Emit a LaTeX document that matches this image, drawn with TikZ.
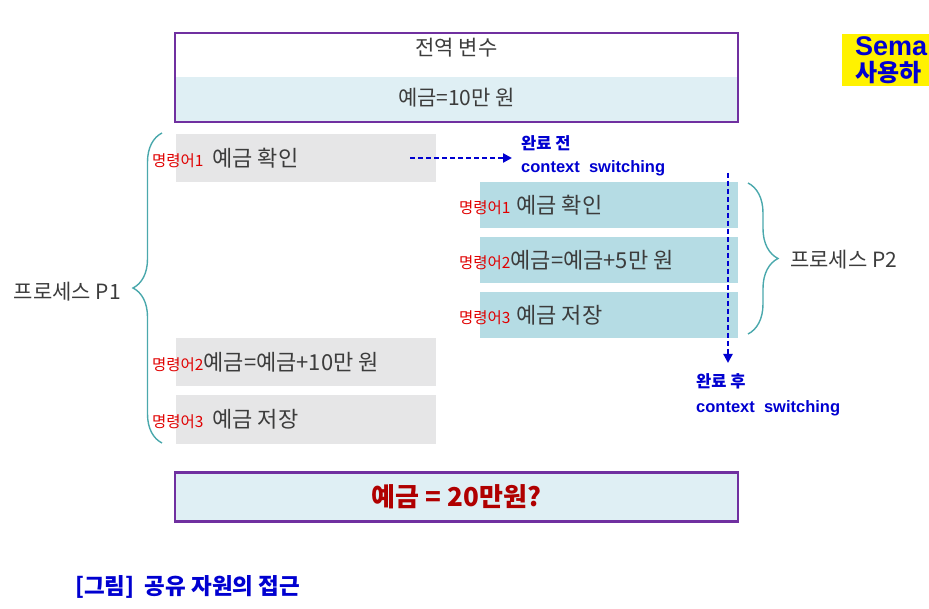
\documentclass[tikz,border=0pt]{standalone}
\usepackage{fontspec}
\setmainfont{Noto Sans CJK KR}
\newfontfamily\kr{Noto Sans CJK KR}
\newfontfamily\ar{Liberation Sans}
\usetikzlibrary{decorations.pathreplacing,arrows.meta}
\definecolor{frame}{HTML}{7030A0}
\definecolor{pale}{HTML}{DFEFF4}
\definecolor{grayfill}{HTML}{E6E6E7}
\definecolor{tealfill}{HTML}{B5DCE4}
\definecolor{txtgray}{HTML}{3C3C3C}
\definecolor{cblue}{HTML}{0000D0}
\definecolor{lblred}{HTML}{E00000}
\definecolor{darkred}{HTML}{B00000}
\definecolor{bracec}{HTML}{4AA8AC}
\newcommand{\lbl}[1]{{\fontsize{15.5}{18}\selectfont\color{lblred}#1}}
\tikzset{
  gbox/.style={fill=grayfill, minimum width=260pt, minimum height=48pt, inner sep=0pt},
  tbox/.style={fill=tealfill, minimum width=258pt, minimum height=46pt, inner sep=0pt},
  body/.style={font=\fontsize{21}{24}\selectfont, text=txtgray, inner sep=0pt},
  cmd/.style={body, font=\fontsize{22}{24}\selectfont, anchor=west},
  bluetxt/.style={font=\fontsize{16.5}{23}\selectfont\bfseries, text=cblue, align=left, anchor=west, inner sep=0pt},
  dasharrow/.style={draw=cblue, line width=2.4pt, dash pattern=on 5pt off 3pt, -{Triangle[length=9pt,width=9pt]}},
  bracestyle/.style={draw=bracec, line width=1.4pt, decorate},
  purpleframe/.style={draw=frame, line width=2.6pt},
  notefont/.style={font=\fontsize{24}{24}\selectfont\bfseries, text=cblue, anchor=west, inner sep=0pt}
}
\begin{document}
\begin{tikzpicture}[x=1pt,y=-1pt]
\useasboundingbox (0,0) rectangle (929,609);
\begin{scope}
\clip (0,0) rectangle (929,609);
% global variable box
\node[fill=pale, minimum width=561pt, minimum height=44pt, inner sep=0pt] (gvval) at (456.5,99) {};
\node[purpleframe, minimum width=563pt, minimum height=89pt, inner sep=0pt] (gv) at (456.5,77.5) {};
\node[body] (gvtitle) at (456.5,48) {전역 변수};
\node[body] (gvtext) at (456.5,98) {예금=10만 원};

% process P1 boxes
\node[gbox] (p11) at (306,158) {};
\node[gbox] (p12) at (306,362.5) {};
\node[gbox] (p13) at (306,419.5) {};
\node[cmd] (t11) at (152,158) {\lbl{명령어1}\hspace{9pt}예금 확인};
\node[cmd] (t12) at (152,362.5) {\lbl{명령어2}예금=예금+10만 원};
\node[cmd] (t13) at (152,419.5) {\lbl{명령어3}\hspace{9pt}예금 저장};

% process P2 boxes
\node[tbox] (p21) at (609,205) {};
\node[tbox] (p22) at (609,260) {};
\node[tbox] (p23) at (609,315) {};
\node[cmd] (t21) at (459,205) {\lbl{명령어1}\hspace{6pt}예금 확인};
\node[cmd] (t22) at (459,260) {\lbl{명령어2}예금=예금+5만 원};
\node[cmd] (t23) at (459,315) {\lbl{명령어3}\hspace{6pt}예금 저장};

% context switching arrows
\coordinate (a1s) at (410,158);
\coordinate (a1e) at (512,158);
\draw[dasharrow] (a1s) -- (a1e);
\node[bluetxt] (cs1) at (521,156) {완료 전\\{\ar\bfseries context\ \ switching}};
\coordinate (a2s) at (728,173);
\coordinate (a2e) at (728,363);
\draw[dasharrow] (a2s) -- (a2e);
\node[bluetxt, font=\fontsize{16.5}{25}\selectfont\bfseries] (cs2) at (696,395) {완료 후\\{\ar\bfseries context\ \ switching}};

% braces
\coordinate (b1s) at (162,443);
\coordinate (b1e) at (162,133);
\draw[bracestyle, decoration={brace, amplitude=29pt}] (b1s) -- (b1e);
\node[body, anchor=east] (pp1) at (121,292) {프로세스 P1};
\coordinate (b2s) at (748,183);
\coordinate (b2e) at (748,334);
\draw[bracestyle, decoration={brace, amplitude=30pt}] (b2s) -- (b2e);
\node[body, anchor=west] (pp2) at (790,260) {프로세스 P2};

% result
\node[purpleframe, fill=pale, minimum width=563pt, minimum height=49pt, inner sep=0pt] (res) at (456.5,497) {};
\node[font=\fontsize{26}{28}\selectfont\bfseries, text=darkred, inner sep=0pt] (restext) at (456.5,497) {예금 = 20만원?};

% caption
\node[font=\fontsize{22.5}{24}\selectfont\bfseries, text=cblue, anchor=west, inner sep=0pt] (cap) at (75,587) {[그림]\ \ 공유 자원의 접근};

% yellow note (cut by the edge)
\node[fill=yellow, minimum width=120pt, minimum height=52pt, anchor=north west, inner sep=0pt] (note) at (842,34) {};
\node[notefont, font=\ar\fontsize{27}{27}\selectfont\bfseries] (note1) at (855,46) {Sema};
\node[notefont] (note2) at (855,73) {사용하};
\end{scope}
\end{tikzpicture}
\end{document}
